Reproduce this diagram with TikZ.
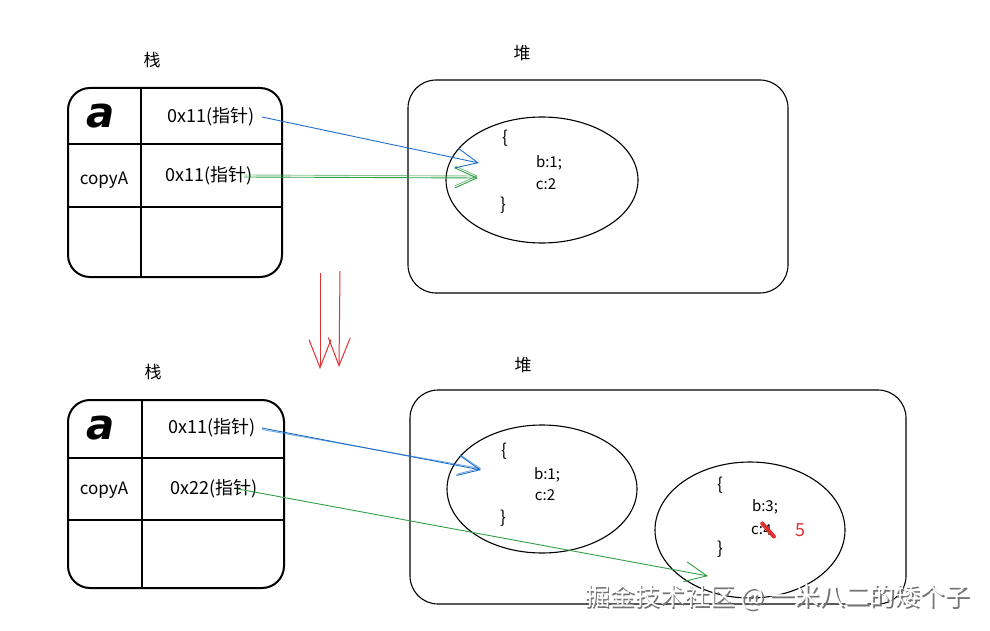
\documentclass[tikz,border=0pt]{standalone}
\usepackage{fontspec}
\setmainfont{Noto Sans CJK SC}
\newfontfamily\handa{DejaVu Sans}
\usetikzlibrary{arrows.meta,shapes.geometric}
\begin{document}
\begin{tikzpicture}[x=1pt,y=-1pt,
  tbl/.style={line width=2pt, rounded corners=22pt},
  grid/.style={line width=2pt},
  heap/.style={line width=1.1pt, rounded corners=28pt},
  blob/.style={draw, ellipse, line width=1.1pt, inner sep=0pt, minimum width=#1},
  lbl/.style={font=\fontsize{17}{17}\selectfont, inner sep=0pt},
  ptr/.style={font=\fontsize{18}{18}\selectfont, inner sep=0pt},
  val/.style={font=\fontsize{15}{15}\selectfont, inner sep=0pt},
  brace/.style={font=\fontsize{17}{17}\selectfont, inner sep=0pt},
  title/.style={font=\fontsize{17}{17}\selectfont, inner sep=0pt},
  bigA/.style={font=\handa\bfseries\itshape\fontsize{42}{42}\selectfont, inner sep=0pt},
  bluearr/.style={draw={rgb,255:red,30;green,110;blue,200}, line width=0.9pt, -{Straight Barb[length=22pt,width=20pt]}},
  greenarr/.style={draw={rgb,255:red,47;green,158;blue,68}, line width=0.9pt, -{Straight Barb[length=22pt,width=20pt]}},
  redarr/.style={draw={rgb,255:red,224;green,49;blue,49}, line width=1pt, -{Straight Barb[length=28pt,width=22pt]}},
]
\useasboundingbox (0,0) rectangle (990,631);
\definecolor{redc}{RGB}{224,49,49}

% ---------- top ----------
\node[title] (s1) at (152,60) {栈};
\draw[tbl] (68,88) rectangle (282,277);
\draw[grid] (141,88) -- (141,278);
\draw[grid] (69,144) -- (281,144);
\draw[grid] (69,207) -- (281,207);
\node[bigA] (a1) at (101,116) {a};
\node[ptr] (p1) at (211,117) {0x11(指针)};
\node[lbl] (c1) at (104,180) {copyA};
\node[ptr] (p2) at (209,176) {0x11(指针)};

\node[title] (h1) at (522,53) {堆};
\draw[heap] (408,80) rectangle (788,293);
\node[blob=192pt, minimum height=126pt] (e1) at (542,180) {};
\node[brace] (o1) at (505,138) {\{};
\node[val] (b1) at (549,163) {b:1;};
\node[val] (v1) at (546,184) {c:2};
\node[brace] (z1) at (503,205) {\}};

\coordinate (ps1) at (262,117);
\coordinate (pe1) at (479,163);
\coordinate (ps2) at (244,177);
\coordinate (pe2) at (478,178);
\draw[bluearr] (ps1) -- (pe1);
\draw[greenarr] (ps2) -- (pe2);
\draw[greenarr, draw opacity=0.6] (ps2) ++(0,-2) -- ([yshift=2pt]pe2);

% ---------- transition arrows ----------
\coordinate (r1s) at (320,273);
\coordinate (r1e) at (320,369);
\coordinate (r2s) at (340,271);
\coordinate (r2e) at (339,367);
\draw[redarr] (r1s) -- (r1e);
\draw[redarr] (r2s) -- (r2e);

% ---------- bottom ----------
\node[title] (s2) at (153,372) {栈};
\draw[tbl] (68,400) rectangle (284,588);
\draw[grid] (142,400) -- (142,589);
\draw[grid] (69,458) -- (283,458);
\draw[grid] (69,520) -- (283,520);
\node[bigA] (a2) at (101,428) {a};
\node[ptr] (p3) at (212,428) {0x11(指针)};
\node[lbl] (c2) at (104,490) {copyA};
\node[ptr] (p4) at (214,489) {0x22(指针)};

\node[title] (h2) at (523,365) {堆};
\draw[heap] (410,390) rectangle (906,604);
\node[blob=190pt, minimum height=128pt] (e2) at (542,489) {};
\node[brace] (o2) at (504,451) {\{};
\node[val] (b2) at (547,475) {b:1;};
\node[val] (v2) at (545,495) {c:2};
\node[brace] (z2) at (503,518) {\}};

\node[blob=190pt, minimum height=136pt] (e3) at (750,530) {};
\node[brace] (o3) at (720,485) {\{};
\node[val] (b3) at (765,507) {b:3;};
\node[val, anchor=west] (v3) at (751,530) {c:};
\node[val, anchor=west] (f3) at (v3.east) {4};
\draw[redc, line width=4pt, line cap=round] ([shift={(-1pt,1pt)}]f3.north west) -- ([shift={(2pt,-1pt)}]f3.south east);
\node[font=\fontsize{18}{18}\selectfont, text=redc, inner sep=0pt] (n5) at (800,530) {5};
\node[brace] (z3) at (720,549) {\}};

\coordinate (ps3) at (262,428);
\coordinate (pe3) at (481,470);
\coordinate (ps4) at (238,489);
\coordinate (pe4) at (708,576);
\draw[bluearr] (ps3) -- (pe3);
\draw[bluearr, draw opacity=0.6] (ps3) ++(0,1.5) -- ([yshift=1.5pt]pe3);
\draw[greenarr] (ps4) -- (pe4);

% ---------- watermark ----------
\node[font=\fontsize{25}{25}\selectfont, text=black!55, inner sep=0pt] (wm0) at (779,599) {掘金技术社区 @ 一米八二的矮个子};
\node[font=\fontsize{25}{25}\selectfont, text=white, inner sep=0pt] (wm) at (777.5,597.5) {掘金技术社区 @ 一米八二的矮个子};
\end{tikzpicture}
\end{document}
